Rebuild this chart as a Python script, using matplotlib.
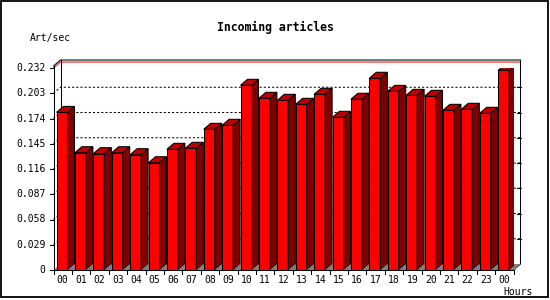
import matplotlib
matplotlib.use('Agg')
import matplotlib.pyplot as plt
from matplotlib.patches import Rectangle

# data
hours = ['00', '01', '02', '03', '04', '05', '06', '07', '08', '09', '10', '11',
         '12', '13', '14', '15', '16', '17', '18', '19', '20', '21', '22', '23', '00']
art_per_sec = [0.181, 0.1347, 0.1336, 0.1347, 0.1324, 0.1232, 0.1386, 0.1398,
               0.1616, 0.1662, 0.2121, 0.1972, 0.1949, 0.1903, 0.2018, 0.1754,
               0.1961, 0.2202, 0.2052, 0.2006, 0.1995, 0.1834, 0.1846, 0.1800,
               0.2293]
yticks = [0, 0.029, 0.058, 0.087, 0.116, 0.145, 0.174, 0.203, 0.232]

W, H = 550, 300
fig = plt.figure(figsize=(W / 100, H / 100), dpi=100)
fig.patch.set_facecolor('white')

# front plane of the plot in pixels
x0_px, x1_px = 53.5, 513.5
y0_px, y1_px = 270, 68
ax = fig.add_axes([x0_px / W, (H - y0_px) / H, (x1_px - x0_px) / W, (y0_px - y1_px) / H])
ax.set_xlim(-0.5, len(hours) - 0.5)
ax.set_ylim(0, yticks[-1])
ax.axis('off')

px_x = (len(hours)) / (x1_px - x0_px)        # data units per pixel
px_y = yticks[-1] / (y0_px - y1_px)
dx, dy = 7 * px_x, 6 * px_y                   # depth of the pseudo 3d
lw = 0.75
xl, xr = -0.5, len(hours) - 0.5
ytop = yticks[-1] + 2 * px_y

# back plane: gridlines, frame, floor
for t in yticks[1:-1]:
    ax.plot([xl, xl + dx, xr + dx], [t, t + dy, t + dy], color='black', lw=lw,
            ls=(0, (2, 2)), clip_on=False, zorder=1)
    ax.plot([xr + dx - 4 * px_x, xr + dx], [t + dy, t + dy], color='black', lw=lw,
            clip_on=False, zorder=1)
ax.plot([xl, xl + dx, xr + dx], [yticks[-1], yticks[-1] + dy, yticks[-1] + dy],
        color='#ff0000', lw=lw, clip_on=False, zorder=1)
ax.plot([xl, xl + dx, xr + dx, xr + dx, xr], [ytop, ytop + dy, ytop + dy, dy, 0],
        color='black', lw=lw, clip_on=False, zorder=1)
ax.plot([xl + dx, xl + dx], [dy, ytop + dy], color='black', lw=lw, clip_on=False, zorder=1)
ax.fill([xl, xl + dx, xr + dx, xr], [0, dy, dy, 0], color='#808080', lw=0,
        clip_on=False, zorder=1)

# bars
off, bw = 3 * px_x, 11 * px_x
for i, v in enumerate(art_per_sec):
    a = i - 0.5 + off
    b = a + bw
    ax.bar(a, v, width=bw, align='edge', color='#ff0000', edgecolor='black',
           linewidth=lw, zorder=3)
    ax.fill([b, b + dx, b + dx, b], [0, dy, v + dy, v], facecolor='#800000',
            edgecolor='black', linewidth=lw, zorder=3)
    ax.fill([b, b + dx], [0, dy], facecolor='none', zorder=3)
    ax.fill([b, b + dx, b + dx], [0, dy, 0], facecolor='#808080', edgecolor='none',
            zorder=4, clip_on=False)
    ax.fill([a, a + dx, b + dx, b], [v, v + dy, v + dy, v], facecolor='#c00000',
            edgecolor='black', linewidth=lw, zorder=3)

# front axes
ax.plot([xl, xl], [0, ytop], color='black', lw=lw, clip_on=False, zorder=5)
ax.plot([xl, xr], [0, 0], color='black', lw=lw, clip_on=False, zorder=5)
for t in yticks:
    ax.plot([xl - 4 * px_x, xl], [t, t], color='black', lw=lw, clip_on=False, zorder=5)
    ax.text(xl - 8 * px_x, t, str(t) if t else '0', ha='right', va='center',
            family='DejaVu Sans Mono', fontsize=7)
for i in range(len(hours) + 1):
    ax.plot([i - 0.5, i - 0.5], [0, -4 * px_y], color='black', lw=lw, clip_on=False, zorder=5)
for i, h in enumerate(hours):
    ax.text(i, -10 * px_y, h, ha='center', va='center',
            family='DejaVu Sans Mono', fontsize=7)

fig.text(275 / W, 1 - 27 / H, 'Incoming articles', ha='center', va='center',
         family='DejaVu Sans Mono', fontweight='bold', fontsize=8.3)
fig.text(30 / W, 1 - 37.5 / H, 'Art/sec', ha='left', va='center',
         family='DejaVu Sans Mono', fontsize=7)
fig.text(533 / W, 1 - 292 / H, 'Hours', ha='right', va='center',
         family='DejaVu Sans Mono', fontsize=7)

fig.patches.append(Rectangle((1 / W, 3 / H), 547 / W, 296 / H, transform=fig.transFigure,
                             fill=False, edgecolor='black', linewidth=1.3))

fig.savefig('out.png', dpi=100)
